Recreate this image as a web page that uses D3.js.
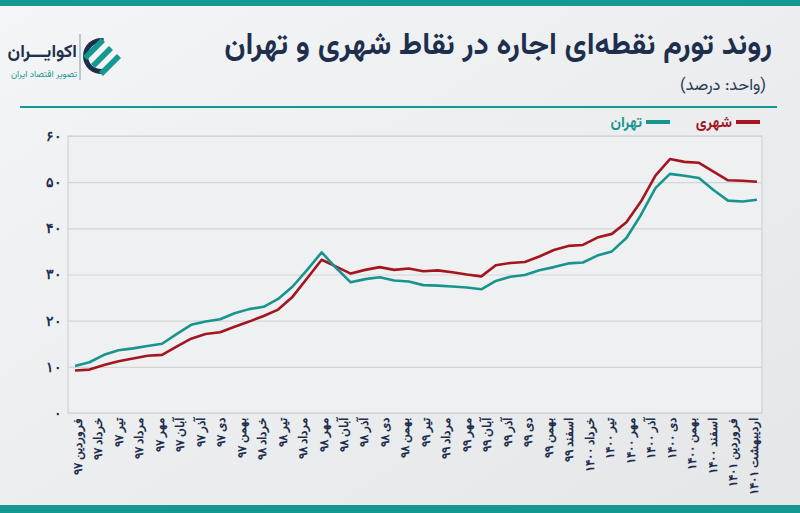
<!DOCTYPE html>
<html>
<head>
<meta charset="utf-8">
<script src="https://cdn.jsdelivr.net/npm/d3@7"></script>
<style>
  body { margin: 0; background: #eceeef; }
  svg { display: block; font-family: "Vazirmatn", "Noto Sans Arabic", "DejaVu Sans", sans-serif; }
</style>
</head>
<body>
<div id="chart"></div>
<script>
// month labels shown under the axis
const monthLabels = [
  "فروردین ۹۷", "خرداد ۹۷", "تیر ۹۷", "مرداد ۹۷", "مهر ۹۷", "آبان ۹۷", "آذر ۹۷", "دی ۹۷",
  "بهمن ۹۷", "خرداد ۹۸", "تیر ۹۸", "مرداد ۹۸", "مهر ۹۸", "آبان ۹۸", "آذر ۹۸", "دی ۹۸",
  "بهمن ۹۸", "تیر ۹۹", "مرداد ۹۹", "مهر ۹۹", "آبان ۹۹", "آذر ۹۹", "دی ۹۹", "بهمن ۹۹",
  "اسفند ۹۹", "خرداد ۱۴۰۰", "تیر ۱۴۰۰", "مهر ۱۴۰۰", "آذر ۱۴۰۰", "دی ۱۴۰۰", "بهمن ۱۴۰۰",
  "اسفند ۱۴۰۰", "فروردین ۱۴۰۱", "اردیبهشت ۱۴۰۱"
];

// rent inflation, percent
const tehran = [
  10.2, 11.0, 12.6, 13.6, 14.0, 14.5, 15.0, 17.1, 19.1, 19.8, 20.3, 21.6,
  22.5, 23.0, 24.7, 27.4, 31.0, 34.8, 31.4, 28.3, 29.0, 29.4, 28.7, 28.5,
  27.7, 27.6, 27.4, 27.2, 26.8, 28.6, 29.5, 29.9, 30.9, 31.6, 32.4, 32.6,
  34.1, 35.0, 37.9, 42.9, 48.7, 51.8, 51.4, 50.9, 48.3, 46.0, 45.8, 46.2
];
const urban = [
  9.2, 9.4, 10.4, 11.2, 11.8, 12.4, 12.6, 14.4, 16.1, 17.1, 17.5, 18.7,
  19.8, 21.0, 22.4, 25.2, 29.2, 33.2, 31.7, 30.2, 31.0, 31.6, 31.0, 31.3,
  30.7, 30.9, 30.5, 30.0, 29.6, 32.0, 32.5, 32.7, 33.9, 35.3, 36.2, 36.4,
  38.0, 38.8, 41.3, 45.8, 51.4, 55.0, 54.4, 54.2, 52.3, 50.4, 50.3, 50.1
];
const yTicks = [0, 10, 20, 30, 40, 50, 60];

const seriesNames = ["شهری", "تهران"];
const seriesColors = ["#a3161f", "#18948e"];

const navy = "#1e2f4d";
const teal = "#139892";

function toFa(n) {
  return String(n).replace(/\d/g, c => "۰۱۲۳۴۵۶۷۸۹"[+c]);
}

const W = 800, H = 513;
const margin = { top: 136, right: 38, bottom: 100, left: 68 };
const width = W - margin.left - margin.right;
const height = H - margin.top - margin.bottom;

const svg = d3.select("#chart")
  .append("svg")
  .attr("width", W)
  .attr("height", H);

// background
const defs = svg.append("defs");
const grad = defs.append("linearGradient")
  .attr("id", "bg")
  .attr("x1", 0).attr("y1", 0).attr("x2", 1).attr("y2", 1);
grad.append("stop").attr("offset", "0%").attr("stop-color", "#f4f5f6");
grad.append("stop").attr("offset", "100%").attr("stop-color", "#e4e6e8");

svg.append("rect")
  .attr("width", W)
  .attr("height", H)
  .attr("fill", "url(#bg)");

// teal bands top and bottom
svg.append("rect").attr("x", 0).attr("y", 0).attr("width", W).attr("height", 6).attr("fill", teal);
svg.append("rect").attr("x", 0).attr("y", H - 8).attr("width", W).attr("height", 8).attr("fill", teal);

// title (rtl: start = right edge)
svg.append("text")
  .attr("x", 772)
  .attr("y", 54)
  .attr("direction", "rtl")
  .attr("text-anchor", "start")
  .attr("font-size", "30.5px")
  .attr("font-weight", "bold")
  .attr("fill", navy)
  .text("روند تورم نقطه‌ای اجاره در نقاط شهری و تهران");

svg.append("text")
  .attr("x", 766)
  .attr("y", 90)
  .attr("direction", "rtl")
  .attr("text-anchor", "start")
  .attr("font-size", "16.5px")
  .attr("fill", "#2b3a55")
  .text("(واحد: درصد)");

// separator
svg.append("line")
  .attr("x1", 20).attr("x2", 777)
  .attr("y1", 107).attr("y2", 107)
  .attr("stroke", teal)
  .attr("stroke-width", 2);

// logo
const logo = svg.append("g").attr("transform", "translate(101,56)");
logo.append("path")
  .attr("d", d3.arc()({ innerRadius: 13, outerRadius: 18, startAngle: Math.PI * 0.95, endAngle: Math.PI * 2.05 }))
  .attr("fill", navy);
[-8, 0, 8].forEach(function(o) {
  logo.append("path")
    .attr("d", `M${o - 10},${o + 8} L${o + 8},${o - 10} L${o + 12},${o - 6} L${o - 6},${o + 12} Z`)
    .attr("fill", teal);
});
svg.append("line")
  .attr("x1", 80).attr("x2", 80)
  .attr("y1", 34).attr("y2", 80)
  .attr("stroke", "#8a97a8")
  .attr("stroke-width", 1);
svg.append("text")
  .attr("x", 77)
  .attr("y", 57)
  .attr("direction", "rtl")
  .attr("text-anchor", "start")
  .attr("font-size", "18px")
  .attr("font-weight", "bold")
  .attr("fill", navy)
  .text("اکوایـــران");
svg.append("text")
  .attr("x", 77)
  .attr("y", 77)
  .attr("direction", "rtl")
  .attr("text-anchor", "start")
  .attr("font-size", "9px")
  .attr("fill", teal)
  .text("تصویر اقتصاد ایران");

// legend
const legend = svg.append("g");
const legendX = [760, 670];
seriesNames.forEach(function(name, i) {
  legend.append("line")
    .attr("x1", legendX[i] - 24).attr("x2", legendX[i])
    .attr("y1", 122).attr("y2", 122)
    .attr("stroke", seriesColors[i])
    .attr("stroke-width", 4);
  legend.append("text")
    .attr("x", legendX[i] - 28)
    .attr("y", 127)
    .attr("text-anchor", "end")
    .attr("font-size", "15px")
    .attr("font-weight", "bold")
    .attr("fill", seriesColors[i])
    .text(name);
});

const g = svg.append("g")
  .attr("transform", `translate(${margin.left},${margin.top})`);

const x = d3.scaleLinear()
  .domain([0, tehran.length - 1])
  .range([7, width - 5]);

const xLabel = d3.scalePoint()
  .domain(monthLabels)
  .range([9, width - 9]);

const y = d3.scaleLinear()
  .domain([0, 60])
  .range([height, 0]);

// plot frame
g.append("rect")
  .attr("width", width)
  .attr("height", height)
  .attr("fill", "#eef0f1")
  .attr("stroke", "#c9cccf")
  .attr("stroke-width", 1);

// grid lines
g.append("g")
  .call(d3.axisLeft(y).tickValues(yTicks).tickSize(-width).tickFormat(""))
  .call(s => s.select(".domain").remove())
  .call(s => s.selectAll("line").attr("stroke", "#d3d6d9").attr("stroke-width", 1.2));

// Y axis labels
g.append("g")
  .call(d3.axisLeft(y).tickValues(yTicks).tickSize(0).tickPadding(6).tickFormat(toFa))
  .call(s => s.select(".domain").remove())
  .call(s => s.selectAll("text")
    .attr("font-size", "14px")
    .attr("font-weight", "bold")
    .attr("fill", navy)
    .attr("font-family", "inherit"));

// X axis labels
g.append("g")
  .attr("transform", `translate(0,${height})`)
  .call(d3.axisBottom(xLabel).tickSize(0))
  .call(s => s.select(".domain").remove())
  .call(s => s.selectAll("text")
    .attr("font-size", "12px")
    .attr("font-weight", "bold")
    .attr("fill", navy)
    .attr("font-family", "inherit")
    .attr("text-anchor", "end")
    .attr("dy", "0.35em")
    .attr("transform", "translate(0,5) rotate(-90)")
    .attr("y", 0)
    .attr("x", 0));

// lines
const line = d3.line()
  .x((d, i) => x(i))
  .y(d => y(d));

[urban, tehran].forEach(function(series, i) {
  g.append("path")
    .datum(series)
    .attr("fill", "none")
    .attr("stroke", seriesColors[i])
    .attr("stroke-width", 2.6)
    .attr("stroke-linejoin", "round")
    .attr("d", line);
});
</script>
</body>
</html>
